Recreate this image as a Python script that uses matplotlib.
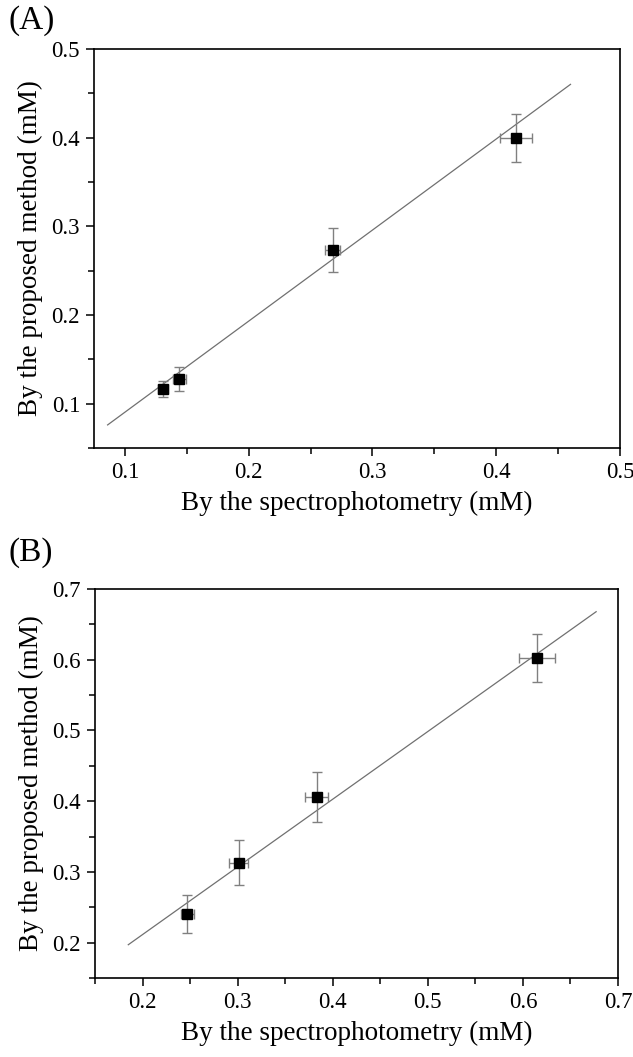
import matplotlib
matplotlib.use("Agg")
import matplotlib.pyplot as plt
import numpy as np
from matplotlib.ticker import MultipleLocator

plt.rcParams['font.family'] = ['Liberation Serif', 'DejaVu Serif']

# Panel A data
a_x = [0.131, 0.144, 0.268, 0.416]
a_y = [0.117, 0.128, 0.273, 0.400]
a_xerr = [0.004, 0.005, 0.006, 0.013]
a_yerr = [0.009, 0.0135, 0.025, 0.027]
a_fit_x = [0.086, 0.460]
a_slope, a_intercept = 1.027, -0.0123

# Panel B data
b_x = [0.247, 0.301, 0.383, 0.615]
b_y = [0.240, 0.313, 0.406, 0.603]
b_xerr = [0.007, 0.010, 0.012, 0.019]
b_yerr = [0.027, 0.032, 0.035, 0.034]
b_fit_x = [0.185, 0.677]
b_slope, b_intercept = 0.957, 0.020

xlabel = "By the spectrophotometry (mM)"
ylabel = "By the proposed method (mM)"

fig = plt.figure(figsize=(6.33, 10.57), dpi=100)
axA = fig.add_axes([94/633, 1-448/1057, (620-94)/633, (448-49)/1057])
axB = fig.add_axes([95/633, 1-978/1057, (618-95)/633, (978-589)/1057])

def draw(ax, x, y, xerr, yerr, fx, slope, icpt, xlim, ylim, xt, yt):
    fx = np.array(fx)
    ax.plot(fx, slope*fx + icpt, color='#707070', lw=0.9, zorder=1)
    ax.errorbar(x, y, xerr=xerr, yerr=yerr, fmt='s', color='black', ms=6.5,
                ecolor='#808080', elinewidth=1.0, capsize=3.5, capthick=1.0, zorder=3)
    ax.set_xlim(*xlim)
    ax.set_ylim(*ylim)
    ax.set_xticks(xt)
    ax.set_yticks(yt)
    ax.xaxis.set_minor_locator(MultipleLocator(0.05))
    ax.yaxis.set_minor_locator(MultipleLocator(0.05))
    ax.set_xticklabels([f"{v:g}" for v in xt])
    ax.set_yticklabels([f"{v:g}" for v in yt])
    ax.tick_params(which='both', direction='out', top=False, right=False, labelsize=16.5, width=1.1)
    ax.tick_params(which='major', length=6, pad=4)
    ax.tick_params(which='minor', length=4)
    for s in ax.spines.values():
        s.set_linewidth(1.2)
    ax.set_xlabel(xlabel, fontsize=19.5, labelpad=6)
    ax.set_ylabel(ylabel, fontsize=19.5, labelpad=6)

draw(axA, a_x, a_y, a_xerr, a_yerr, a_fit_x, a_slope, a_intercept,
     (0.075, 0.5), (0.05, 0.5), [0.1, 0.2, 0.3, 0.4, 0.5], [0.1, 0.2, 0.3, 0.4, 0.5])
draw(axB, b_x, b_y, b_xerr, b_yerr, b_fit_x, b_slope, b_intercept,
     (0.15, 0.7), (0.15, 0.7), [0.2, 0.3, 0.4, 0.5, 0.6, 0.7], [0.2, 0.3, 0.4, 0.5, 0.6, 0.7])

fig.text(8/633, 1-21/1057, "(A)", fontsize=24, va='center', ha='left')
fig.text(8/633, 1-553/1057, "(B)", fontsize=24, va='center', ha='left')

fig.savefig("out.png", dpi=100)
